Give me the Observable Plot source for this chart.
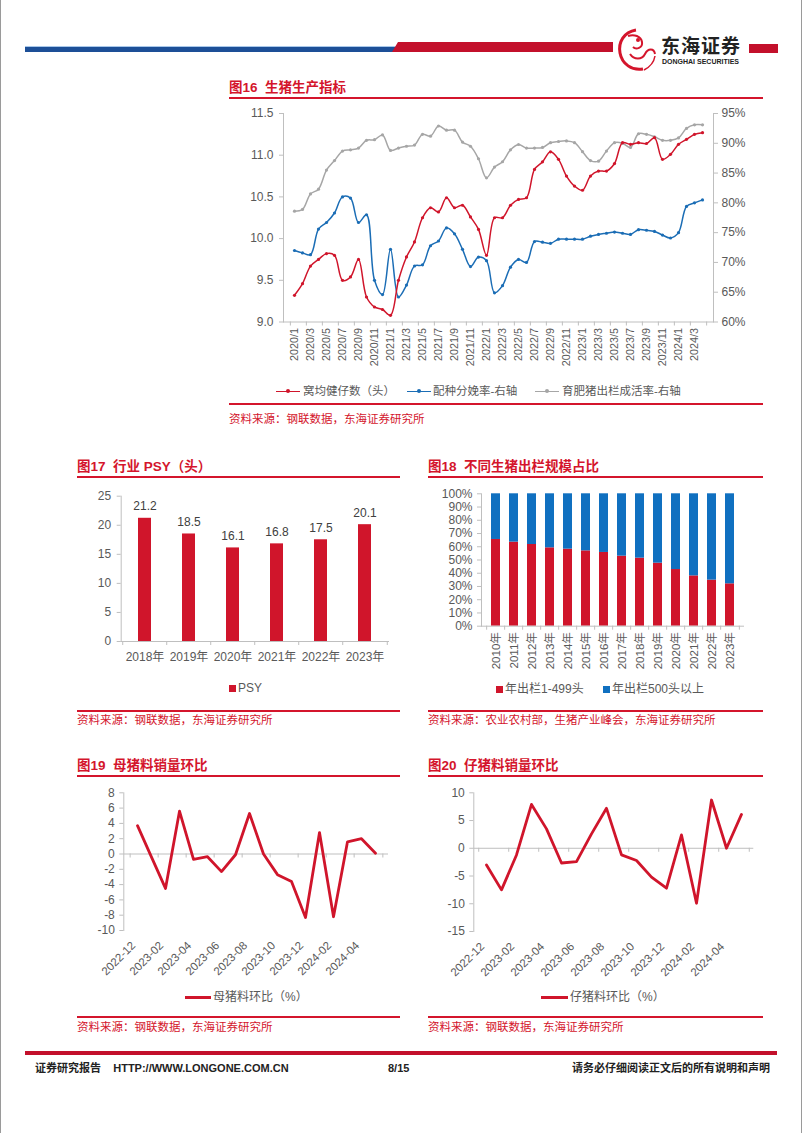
<!DOCTYPE html>
<html><head><meta charset="utf-8">
<script src="https://cdn.jsdelivr.net/npm/d3@7"></script>
<script src="https://cdn.jsdelivr.net/npm/@observablehq/plot@0.6"></script>
<style>
html,body{margin:0;padding:0;}
body{width:802px;height:1133px;position:relative;background:#fff;overflow:hidden;font-family:"Liberation Sans","Noto Sans CJK SC",sans-serif;}
.a{position:absolute;white-space:nowrap;}
.t{color:#d4152c;font-weight:bold;font-size:13.5px;line-height:16px;}
.ln{position:absolute;height:1.5px;background:#d4152c;}
.src{color:#d4152c;font-size:11.5px;line-height:14px;}
.lg{color:#595959;font-size:11.5px;line-height:14px;}
.ft{color:#222;font-weight:bold;font-size:11px;line-height:13px;}
</style></head><body>
<!-- side frame -->
<div class="a" style="left:0;top:0;width:1px;height:1133px;background:#9a9a9a"></div>
<div class="a" style="left:801px;top:0;width:1px;height:1133px;background:#9a9a9a"></div>
<!-- header -->
<div class="a" style="left:25px;top:46px;width:372px;height:6px;background:linear-gradient(#a9c8ea 0,#a9c8ea 1px,#1d4f97 1px)"></div>
<div class="a" style="left:392px;top:42px;width:221px;height:10px;background:#c3102b;clip-path:polygon(6px 0,100% 0,100% 100%,0 100%)"></div>
<svg class="a" style="left:614px;top:26px" width="46" height="48" viewBox="0 0 46 48">
  <path d="M22 4 C10 6 4 16 6 27 C8 38 18 45 29 43" fill="none" stroke="#d4152c" stroke-width="3"/>
  <path d="M14 10 C20 8 27 10 28 16 C29 22 22 24 19 21" fill="none" stroke="#d4152c" stroke-width="2"/>
  <path d="M16 28 C20 34 28 34 31 28 C34 22 40 22 41 28" fill="none" stroke="#d4152c" stroke-width="2"/>
  <path d="M30 44 C36 41 40 36 41 30" fill="none" stroke="#d4152c" stroke-width="1.5"/>
  <circle cx="24" cy="14" r="2" fill="#d4152c"/>
</svg>
<div class="a" style="left:661px;top:36px;font-size:19px;font-weight:bold;color:#222;line-height:22px;letter-spacing:1px">东海证券</div>
<div class="a" style="left:662px;top:58px;font-size:7px;font-weight:bold;color:#222;line-height:8px">DONGHAI SECURITIES</div>
<div class="a" style="left:749px;top:44px;width:29px;height:9px;background:#c3102b"></div>

<!-- chart 16 texts -->
<div class="a t" style="left:229px;top:80px">图16&nbsp; 生猪生产指标</div>
<div class="ln" style="left:229px;top:97px;width:534px"></div>
<div class="a lg" style="left:0;top:384px;width:802px;height:14px">
  <div class="a" style="left:276px;top:6.5px;width:24px;height:1.5px;background:#d0152b"></div>
  <div class="a" style="left:286px;top:5px;width:4px;height:4px;border-radius:2px;background:#d0152b"></div>
  <div class="a" style="left:303px;top:0">窝均健仔数（头）</div>
  <div class="a" style="left:407px;top:6.5px;width:24px;height:1.5px;background:#1b6db5"></div>
  <div class="a" style="left:417px;top:5px;width:4px;height:4px;border-radius:2px;background:#1b6db5"></div>
  <div class="a" style="left:433px;top:0">配种分娩率-右轴</div>
  <div class="a" style="left:535px;top:6.5px;width:24px;height:1.5px;background:#a6a6a6"></div>
  <div class="a" style="left:545px;top:5px;width:4px;height:4px;border-radius:2px;background:#a6a6a6"></div>
  <div class="a" style="left:562px;top:0">育肥猪出栏成活率-右轴</div>
</div>
<div class="ln" style="left:229px;top:403px;width:534px"></div>
<div class="a src" style="left:229px;top:412px">资料来源：钢联数据，东海证券研究所</div>

<!-- chart 17 / 18 texts -->
<div class="a t" style="left:77px;top:459px">图17&nbsp; 行业 PSY（头）</div>
<div class="ln" style="left:77px;top:476px;width:323px"></div>
<div class="a t" style="left:428px;top:459px">图18&nbsp; 不同生猪出栏规模占比</div>
<div class="ln" style="left:428px;top:476px;width:335px"></div>
<div class="a" style="left:229px;top:685px;width:7px;height:7px;background:#d0152b"></div>
<div class="a lg" style="left:238px;top:681px;font-size:12px">PSY</div>
<div class="a" style="left:496px;top:686px;width:7px;height:7px;background:#d0152b"></div>
<div class="a lg" style="left:505px;top:682px;font-size:12px">年出栏1-499头</div>
<div class="a" style="left:603px;top:686px;width:7px;height:7px;background:#1070c0"></div>
<div class="a lg" style="left:612px;top:682px;font-size:12px">年出栏500头以上</div>
<div class="ln" style="left:77px;top:710px;width:323px"></div>
<div class="a src" style="left:77px;top:713px">资料来源：钢联数据，东海证券研究所</div>
<div class="ln" style="left:428px;top:710px;width:335px"></div>
<div class="a src" style="left:428px;top:713px">资料来源：农业农村部，生猪产业峰会，东海证券研究所</div>

<!-- chart 19 / 20 texts -->
<div class="a t" style="left:77px;top:758px">图19&nbsp; 母猪料销量环比</div>
<div class="ln" style="left:77px;top:775px;width:323px"></div>
<div class="a t" style="left:428px;top:758px">图20&nbsp; 仔猪料销量环比</div>
<div class="ln" style="left:428px;top:775px;width:335px"></div>
<div class="a" style="left:185px;top:996px;width:26px;height:2.5px;background:#d0152b"></div>
<div class="a lg" style="left:213px;top:990px;font-size:12px">母猪料环比（%）</div>
<div class="a" style="left:541px;top:996px;width:27px;height:2.5px;background:#d0152b"></div>
<div class="a lg" style="left:570px;top:990px;font-size:12px">仔猪料环比（%）</div>
<div class="ln" style="left:77px;top:1016px;width:323px"></div>
<div class="a src" style="left:77px;top:1020px">资料来源：钢联数据，东海证券研究所</div>
<div class="ln" style="left:428px;top:1016px;width:335px"></div>
<div class="a src" style="left:428px;top:1020px">资料来源：钢联数据，东海证券研究所</div>

<!-- footer -->
<div class="a" style="left:25px;top:1051px;width:752px;height:4px;background:#c3102b"></div>
<div class="a ft" style="left:35px;top:1062px">证券研究报告&nbsp;&nbsp;&nbsp; HTTP://WWW.LONGONE.COM.CN</div>
<div class="a ft" style="left:388px;top:1062px">8/15</div>
<div class="a ft" style="left:560px;top:1062px;width:210px;text-align:right">请务必仔细阅读正文后的所有说明和声明</div>

<script>
// ---------- data ----------
const months16 = ["2020/1","2020/2","2020/3","2020/4","2020/5","2020/6","2020/7","2020/8","2020/9","2020/10","2020/11","2020/12",
"2021/1","2021/2","2021/3","2021/4","2021/5","2021/6","2021/7","2021/8","2021/9","2021/10","2021/11","2021/12",
"2022/1","2022/2","2022/3","2022/4","2022/5","2022/6","2022/7","2022/8","2022/9","2022/10","2022/11","2022/12",
"2023/1","2023/2","2023/3","2023/4","2023/5","2023/6","2023/7","2023/8","2023/9","2023/10","2023/11","2023/12",
"2024/1","2024/2","2024/3","2024/4"];
const litter = [9.32,9.46,9.67,9.75,9.82,9.80,9.50,9.54,9.75,9.30,
9.18,9.15,9.08,9.50,9.78,9.96,10.25,10.37,10.32,10.49,
10.37,10.40,10.26,10.11,9.80,10.25,10.25,10.40,10.47,10.49,
10.83,10.92,11.04,10.95,10.75,10.63,10.58,10.75,10.81,10.81,
10.90,11.15,11.13,11.15,11.14,11.21,10.95,11.01,11.13,11.19,
11.25,11.27];
const farrowRate = [72.0,71.6,71.3,75.6,76.7,78.3,81.0,80.8,76.7,78.0,
67.0,64.6,72.2,64.2,66.2,69.4,69.6,72.8,73.6,75.8,
74.8,72.2,69.3,70.9,70.3,64.9,66.1,69.2,70.5,70.0,
73.5,73.4,73.2,73.9,73.9,73.9,73.9,74.4,74.7,74.9,
75.1,74.9,74.7,75.5,75.4,75.2,74.6,74.1,75.0,79.4,
80.0,80.5];
const survivalRate = [78.6,78.9,81.5,82.3,85.5,87.1,88.7,88.9,89.2,90.5,
90.6,91.4,88.8,89.2,89.5,89.7,91.5,91.2,92.9,92.2,
92.2,90.2,89.5,87.4,84.2,86.0,86.9,88.9,89.8,89.2,
89.2,89.3,90.1,90.3,90.4,90.1,88.6,87.1,87.0,88.7,
90.1,90.0,89.3,91.6,91.5,91.1,90.5,90.5,90.9,92.5,
93.1,93.1];
const leftTicks16 = [9.0,9.5,10.0,10.5,11.0,11.5];
const rightTicks16 = [60,65,70,75,80,85,90,95];

const years17 = ["2018年","2019年","2020年","2021年","2022年","2023年"];
const psy = [21.2,18.5,16.1,16.8,17.5,20.1];
const ticks17 = [0,5,10,15,20,25];

const years18 = ["2010年","2011年","2012年","2013年","2014年","2015年","2016年","2017年","2018年","2019年","2020年","2021年","2022年","2023年"];
const small18 = [65.5,63.5,61.7,59.2,58.2,56.9,55.7,52.9,51.4,47.6,42.8,38.0,34.8,32.0];
const large18 = [34.5,36.5,38.3,40.8,41.8,43.1,44.3,47.1,48.6,52.4,57.2,62.0,65.2,68.0];
const series18 = ["年出栏1-499头","年出栏500头以上"];
const ticks18 = [0,10,20,30,40,50,60,70,80,90,100];

const months19 = ["2022-12","2023-01","2023-02","2023-03","2023-04","2023-05","2023-06","2023-07","2023-08","2023-09","2023-10","2023-11","2023-12","2024-01","2024-02","2024-03","2024-04","2024-05"];
const monthLabels19 = ["2022-12","2023-02","2023-04","2023-06","2023-08","2023-10","2023-12","2024-02","2024-04"];
const sowFeed = [3.7,-0.4,-4.5,5.6,-0.7,-0.35,-2.3,-0.1,5.3,0.0,-2.7,-3.6,-8.3,2.8,-8.2,1.6,2.0,0.1];
const pigletFeed = [-3.0,-7.5,-1.2,7.9,3.5,-2.65,-2.4,2.6,7.2,-1.2,-2.2,-5.2,-7.2,2.4,-9.9,8.7,0.0,6.1];
const ticks19 = [-10,-8,-6,-4,-2,0,2,4,6,8];
const ticks20 = [-15,-10,-5,0,5,10];

// ---------- styles ----------
const RED = "#d0152b", BLUE16 = "#1b6db5", GRAY16 = "#a6a6a6", BLUE18 = "#1070c0";
const AX = "#bfbfbf", TXT = "#595959";
const FONT = '"Liberation Sans","Noto Sans CJK SC",sans-serif';
const baseStyle = {background: "transparent", fontFamily: FONT, color: TXT, overflow: "visible"};
const plain = d => String(d);

function place(svg, left, top) {
  svg.style.position = "absolute";
  svg.style.left = left + "px";
  svg.style.top = top + "px";
  svg.style.maxWidth = "none";
  document.body.appendChild(svg);
}

// ---------- chart 16 ----------
{
  const rows = months16.map((m, i) => ({m, litter: litter[i], farrow: farrowRate[i], survival: survivalRate[i]}));
  const W = 541, H = 277, ML = 54, MR = 57, MT = 8, MB = 60.5;
  const step = (W - ML - MR) / months16.length;
  const even = months16.filter((d, i) => i % 2 === 0);
  const common = {width: W, height: H, marginLeft: ML, marginRight: MR, marginTop: MT, marginBottom: MB,
    style: baseStyle, x: {type: "point", domain: months16, padding: 0.5, axis: null}};
  const right = Plot.plot({...common,
    y: {domain: [60, 95], axis: null},
    marks: [
      Plot.frame({anchor: "right", stroke: AX}),
      Plot.axisY({anchor: "right", label: null, ticks: rightTicks16, tickFormat: d => d + "%", tickSize: 4, tickPadding: 4, stroke: AX, fill: TXT, fontSize: 12}),
      Plot.line(rows, {x: "m", y: "survival", stroke: GRAY16, strokeWidth: 1.5, curve: "catmull-rom"}),
      Plot.dot(rows, {x: "m", y: "survival", r: 1.6, fill: GRAY16}),
      Plot.line(rows, {x: "m", y: "farrow", stroke: BLUE16, strokeWidth: 1.5, curve: "catmull-rom"}),
      Plot.dot(rows, {x: "m", y: "farrow", r: 1.6, fill: BLUE16})
    ]});
  place(right, 229, 105);
  const left = Plot.plot({...common,
    y: {domain: [9, 11.5], axis: null},
    marks: [
      Plot.frame({anchor: "left", stroke: AX}),
      Plot.frame({anchor: "bottom", stroke: AX}),
      Plot.axisY({label: null, ticks: leftTicks16, tickFormat: d3.format(".1f"), tickSize: 4, tickPadding: 6, stroke: AX, fill: TXT, fontSize: 12}),
      Plot.axisX({label: null, ticks: even, tickSize: 0, tickPadding: 6, tickRotate: -90, fill: TXT, fontSize: 10.8}),
      Plot.axisX({label: null, ticks: even, tickSize: 4, tickFormat: () => "", dx: -step / 2, stroke: AX}),
      Plot.axisX({label: null, ticks: [months16[months16.length - 1]], tickSize: 4, tickFormat: () => "", dx: step / 2, stroke: AX}),
      Plot.line(rows, {x: "m", y: "litter", stroke: RED, strokeWidth: 1.5, curve: "catmull-rom"}),
      Plot.dot(rows, {x: "m", y: "litter", r: 1.6, fill: RED})
    ]});
  place(left, 229, 105);
}

// ---------- chart 17 ----------
{
  const rows = years17.map((y, i) => ({y, v: psy[i]}));
  const W = 330, H = 189, ML = 50.7, MR = 12, MT = 13.7, MB = 30;
  const step = (W - ML - MR) / years17.length;
  const svg = Plot.plot({width: W, height: H, marginLeft: ML, marginRight: MR, marginTop: MT, marginBottom: MB,
    style: baseStyle,
    x: {domain: years17, paddingInner: 0.7, paddingOuter: 0.35, axis: null},
    y: {domain: [0, 25], axis: null},
    marks: [
      Plot.barY(rows, {x: "y", y: "v", fill: RED}),
      Plot.text(rows, {x: "y", y: "v", text: d => d.v.toFixed(1), dy: -12, fill: "#404040", fontSize: 12}),
      Plot.frame({anchor: "left", stroke: AX}),
      Plot.frame({anchor: "bottom", stroke: AX}),
      Plot.axisY({label: null, ticks: ticks17, tickFormat: plain, tickSize: 4, tickPadding: 6, stroke: AX, fill: TXT, fontSize: 12}),
      Plot.axisX({label: null, tickSize: 0, tickPadding: 11, fill: TXT, fontSize: 12}),
      Plot.axisX({label: null, ticks: years17, tickSize: 4, tickFormat: () => "", dx: -step / 2, stroke: AX}),
      Plot.axisX({label: null, ticks: [years17[years17.length - 1]], tickSize: 4, tickFormat: () => "", dx: step / 2, stroke: AX})
    ]});
  place(svg, 70, 482);
}

// ---------- chart 18 ----------
{
  const rows = [];
  years18.forEach((y, i) => {
    rows.push({year: y, type: series18[0], v: small18[i]});
    rows.push({year: y, type: series18[1], v: large18[i]});
  });
  const W = 340, H = 191, ML = 61, MR = 17, MT = 8.3, MB = 50.3;
  const step = (W - ML - MR) / years18.length;
  const svg = Plot.plot({width: W, height: H, marginLeft: ML, marginRight: MR, marginTop: MT, marginBottom: MB,
    style: baseStyle,
    x: {domain: years18, paddingInner: 0.5, paddingOuter: 0.25, axis: null},
    y: {domain: [0, 100], axis: null},
    color: {domain: series18, range: [RED, BLUE18]},
    marks: [
      Plot.barY(rows, {x: "year", y: "v", fill: "type"}),
      Plot.frame({anchor: "left", stroke: AX}),
      Plot.frame({anchor: "bottom", stroke: AX}),
      Plot.axisY({label: null, ticks: ticks18, tickFormat: d => d + "%", tickSize: 4, tickPadding: 5, stroke: AX, fill: TXT, fontSize: 12}),
      Plot.axisX({label: null, tickSize: 0, tickPadding: 6, tickRotate: -90, fill: TXT, fontSize: 11.5}),
      Plot.axisX({label: null, ticks: years18, tickSize: 4, tickFormat: () => "", dx: -step / 2, stroke: AX}),
      Plot.axisX({label: null, ticks: [years18[years18.length - 1]], tickSize: 4, tickFormat: () => "", dx: step / 2, stroke: AX})
    ]});
  place(svg, 420, 485);
}

// ---------- charts 19 / 20 ----------
function feedChart(values, yDomain, yTicks, W, H, MB, MR, left) {
  const rows = months19.map((m, i) => ({m, v: values[i]}));
  const ML = 53.3, MT = 7.3;
  const step = (W - ML - MR) / months19.length;
  const even = months19.filter((d, i) => i % 2 === 0);
  const svg = Plot.plot({width: W, height: H, marginLeft: ML, marginRight: MR, marginTop: MT, marginBottom: MB,
    style: baseStyle,
    x: {type: "point", domain: months19, padding: 0.5, axis: null},
    y: {domain: yDomain, axis: null},
    marks: [
      Plot.frame({anchor: "left", stroke: AX}),
      Plot.ruleY([0], {stroke: AX}),
      Plot.ruleX(even, {x: d => d, y1: 0, y2: 0, insetBottom: -4, dx: -step / 2, stroke: AX}),
      Plot.ruleX([months19[months19.length - 1]], {x: d => d, y1: 0, y2: 0, insetBottom: -4, dx: step / 2, stroke: AX}),
      Plot.axisY({label: null, ticks: yTicks, tickFormat: plain, tickSize: 4, tickPadding: 5, stroke: AX, fill: TXT, fontSize: 12}),
      Plot.axisX({label: null, ticks: monthLabels19, tickSize: 0, tickPadding: 13, dx: -4, tickRotate: -45, fill: TXT, fontSize: 11.5}),
      Plot.line(rows, {x: "m", y: "v", stroke: RED, strokeWidth: 2.8})
    ]});
  place(svg, left, 785);
}
feedChart(sowFeed, [-10, 8], ticks19, 330, 195, 50, 12, 70);
feedChart(pigletFeed, [-15, 10], ticks20, 348, 196, 50, 14.7, 420);
</script>
</body></html>
